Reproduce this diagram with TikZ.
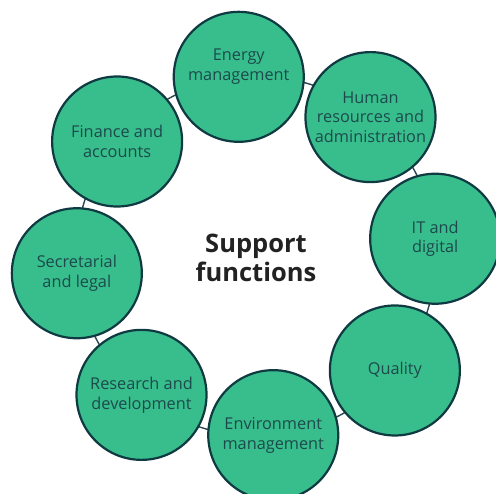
\documentclass[tikz,border=0pt]{standalone}
\usepackage{fontspec}
\setmainfont{Open Sans}
\usetikzlibrary{calc}
\definecolor{fngreen}{HTML}{38BE8C}
\definecolor{fnline}{HTML}{0F3A42}
\definecolor{fntext}{HTML}{1C4A4C}
\definecolor{ringcol}{HTML}{2A4750}
\definecolor{titlecol}{HTML}{222222}
\tikzset{
  fntextstyle/.style={align=center, text=fntext, font=\fontsize{16.3}{19.8}\selectfont},
  fn/.style={circle, draw=fnline, line width=2.2pt, fill=fngreen,
    minimum size=130pt, inner sep=0pt, fntextstyle},
  ringline/.style={circle, draw=ringcol, line width=1.4pt, minimum size=360pt, inner sep=0pt},
  titletext/.style={align=center, text=titlecol, font=\bfseries\fontsize{25.5}{29}\selectfont}
}
\begin{document}
\begin{tikzpicture}[x=1pt,y=1pt]
\useasboundingbox (0,0) rectangle (496,494);
\coordinate (c) at (256,238);
\node[ringline] (ring) at (c) {};
\node[fn] (energy) at ($(c)+(95.5:180)$) {};
\node[fntextstyle] (energytext) at ($(energy.center)+(0,10)$) {Energy\\management};
\node[fn] (hr) at ($(c)+(50.5:180)$) {Human\\resources and\\administration};
\node[fn] (it) at ($(c)+(5.5:180)$) {IT and\\digital};
\node[fn] (quality) at ($(c)+(-39.5:180)$) {Quality};
\node[fn] (env) at ($(c)+(-84.5:180)$) {Environment\\management};
\node[fn] (rd) at ($(c)+(-129.5:180)$) {Research and\\development};
\node[fn] (sec) at ($(c)+(-174.5:180)$) {Secretarial\\and legal};
\node[fn] (fin) at ($(c)+(140.5:180)$) {Finance and\\accounts};
\node[titletext] (title) at ($(c)+(0,-2)$) {Support\\functions};
\end{tikzpicture}
\end{document}
